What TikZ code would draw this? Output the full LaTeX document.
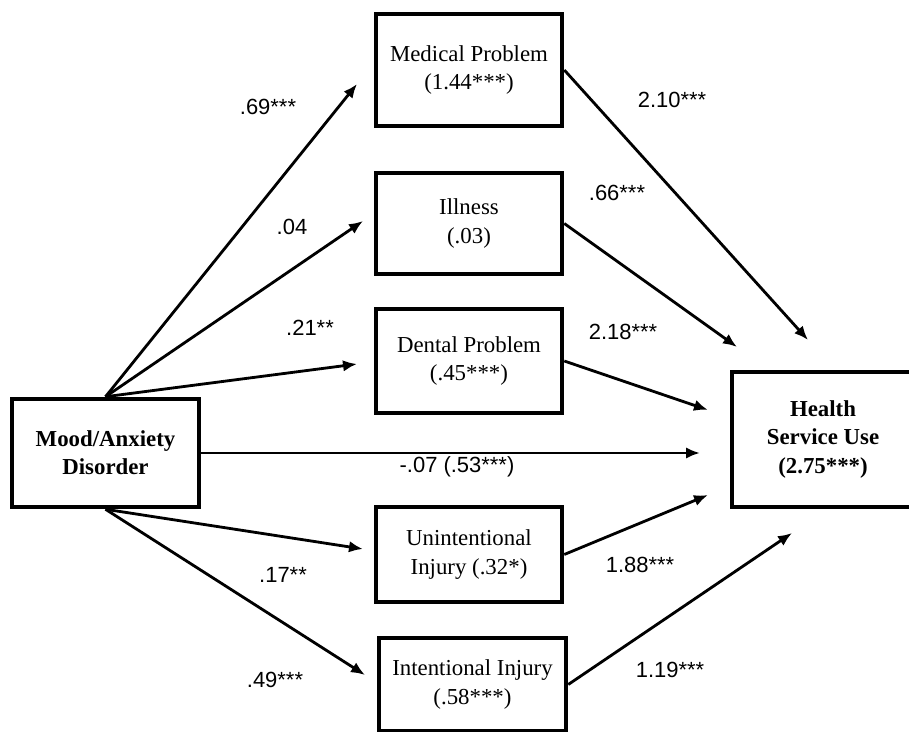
\documentclass[tikz,border=0pt]{standalone}
\usepackage{fontspec}
\setmainfont{Liberation Serif}
\newfontfamily\labelfont{Liberation Sans}
\usetikzlibrary{arrows.meta}
\tikzset{
  varbox/.style={draw=black, line width=2.6pt, align=center, inner sep=2pt, minimum width=3.72cm, font=\fontsize{13}{16}\selectfont},
  keybox/.style={varbox, font=\fontsize{13}{16}\selectfont\bfseries},
  arrow/.style={-{Latex[length=2.8mm,width=2.3mm]}, line width=1.6pt, draw=black},
  coef/.style={font=\labelfont\fontsize{12.5}{15}\selectfont, inner sep=1pt}
}

\begin{document}
\begin{tikzpicture}[x=0.02cm, y=-0.02cm]
\useasboundingbox (0,0) rectangle (909,732);

\node[keybox, minimum width=3.74cm, minimum height=2.16cm] (mood) at (105.5,453) {Mood/Anxiety\\Disorder};
\node[varbox, minimum height=2.24cm] (med) at (469,70) {Medical Problem\\(1.44***)};
\node[varbox, minimum height=2.02cm] (ill) at (469,223.5) {Illness\\(.03)};
\node[varbox, minimum height=2.08cm] (den) at (469,361) {Dental Problem\\(.45***)};
\node[varbox, minimum height=1.9cm] (uni) at (469,554.5) {Unintentional\\Injury (.32*)};
\node[varbox, minimum width=3.74cm, minimum height=1.86cm] (int) at (472.5,684.5) {Intentional Injury\\(.58***)};
\node[keybox, minimum width=3.64cm, minimum height=2.7cm] (hsu) at (823,439.5) {Health\\Service Use\\(2.75***)};

\coordinate (tMed) at (357,84);
\coordinate (tIll) at (363,221);
\coordinate (tDen) at (357,364);
\coordinate (tDir) at (700,453);
\coordinate (tUni) at (363,549);
\coordinate (tInt) at (365,675);
\coordinate (hMed) at (808,340);
\coordinate (hIll) at (737,347);
\coordinate (hDen) at (708,410);
\coordinate (hUni) at (708,495);
\coordinate (hInt) at (792,533);

\draw[arrow] (mood.north) -- (tMed);
\draw[arrow] (mood.north) -- (tIll);
\draw[arrow] (mood.north) -- (tDen);
\draw[arrow] (mood.east) -- (tDir);
\draw[arrow] (mood.south) -- (tUni);
\draw[arrow] (mood.south) -- (tInt);
\draw[arrow] (med.east) -- (hMed);
\draw[arrow] (ill.east) -- (hIll);
\draw[arrow] (den.east) -- (hDen);
\draw[arrow] (uni.east) -- (hUni);
\draw[arrow] (int.east) -- (hInt);

\node[coef] (cMed) at (268,107) {.69***};
\node[coef] (cIll) at (292,227) {.04};
\node[coef] (cDen) at (310,328) {.21**};
\node[coef] (cDir) at (457,467) {-.07 (.53***)};
\node[coef] (cUni) at (283,575) {.17**};
\node[coef] (cInt) at (275,680) {.49***};
\node[coef] (dMed) at (672,100) {2.10***};
\node[coef] (dIll) at (617,193) {.66***};
\node[coef] (dDen) at (623,332) {2.18***};
\node[coef] (dUni) at (640,565) {1.88***};
\node[coef] (dInt) at (670,670) {1.19***};
\end{tikzpicture}
\end{document}
